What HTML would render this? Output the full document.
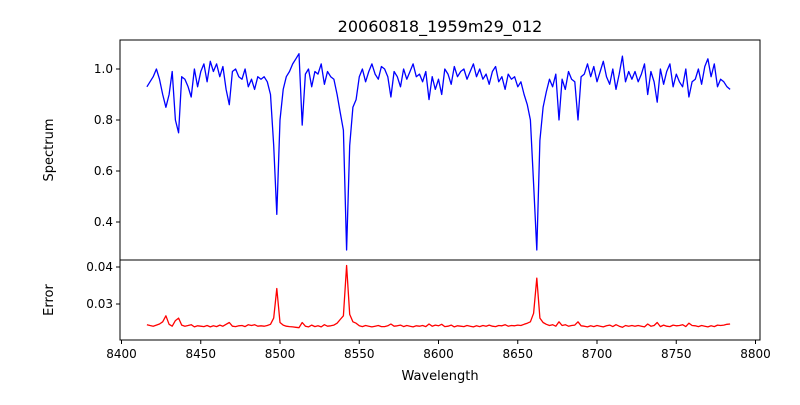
<!DOCTYPE html>
<html><head><meta charset="utf-8"><style>
body{margin:0;background:#fff;}
svg text{font-family:"DejaVu Sans","Liberation Sans",sans-serif;}
</style></head><body>
<svg id="c" width="800" height="400" xmlns="http://www.w3.org/2000/svg">
<rect width="800" height="400" fill="#fff"/>
<text x="440" y="32" font-size="16" text-anchor="middle">20060818_1959m29_012</text>
<text x="0" y="0" font-size="13" text-anchor="middle" transform="translate(53,150) rotate(-90)">Spectrum</text>
<text x="0" y="0" font-size="13" text-anchor="middle" transform="translate(53,300) rotate(-90)">Error</text>
<text x="440" y="380" font-size="13" text-anchor="middle">Wavelength</text>
<g id="g"></g>
</svg>
<script>
const wlStart = 8416, wlStep = 2;
const spectrum = [.93,.95,.97,1.0,.96,.90,.85,.90,.99,.80,.75,.97,.96,.93,.89,1.00,.93,.99,1.02,.95,1.03,.99,1.02,.97,1.01,.92,.86,.99,1.00,.97,.96,1.00,.93,.96,.92,.97,.96,.97,.95,.90,.70,.43,.80,.92,.97,.99,1.02,1.04,1.06,.78,.98,1.00,.93,.99,.98,1.02,.94,.99,.97,.96,.90,.83,.76,.29,.70,.85,.88,.97,1.00,.95,.99,1.02,.98,.96,1.01,1.00,.97,.89,.99,.97,.93,1.00,.96,.99,1.02,.97,.98,.95,.99,.88,.97,.92,.96,.90,1.00,.98,.94,1.01,.97,.99,1.00,.96,.99,1.02,.97,1.00,.96,.98,.94,.99,1.01,.95,.97,.92,.98,.96,.97,.93,.95,.90,.86,.80,.55,.29,.72,.85,.91,.96,.93,.98,.80,.96,.92,.99,.96,.95,.80,.97,.98,1.02,.97,1.01,.95,.99,1.03,.97,.94,1.00,.92,.98,1.05,.95,.99,.96,.99,.95,.98,1.02,.90,.99,.95,.87,1.00,.94,.99,1.02,.93,.98,.95,.93,1.00,.89,.95,.96,1.00,.94,1.01,1.04,.97,1.02,.93,.96,.95,.93,.92];
const errors = [.0244,.0242,.0240,.0243,.0246,.0252,.0268,.0245,.0240,.0255,.0262,.0243,.0240,.0242,.0244,.0238,.0241,.0240,.0239,.0242,.0238,.0241,.0239,.0243,.0240,.0245,.0250,.0240,.0239,.0241,.0242,.0239,.0244,.0242,.0244,.0240,.0241,.0240,.0242,.0245,.0262,.0342,.0250,.0243,.0240,.0239,.0238,.0237,.0236,.0250,.0240,.0238,.0243,.0239,.0241,.0238,.0244,.0240,.0241,.0243,.0248,.0258,.0268,.0404,.0272,.0252,.0248,.0241,.0239,.0242,.0240,.0238,.0240,.0242,.0239,.0239,.0241,.0246,.0240,.0241,.0243,.0239,.0242,.0240,.0238,.0241,.0240,.0242,.0239,.0246,.0240,.0243,.0241,.0245,.0239,.0240,.0243,.0238,.0241,.0240,.0239,.0242,.0240,.0238,.0241,.0239,.0242,.0240,.0243,.0240,.0239,.0242,.0241,.0244,.0240,.0242,.0241,.0243,.0242,.0245,.0248,.0252,.0275,.0370,.0262,.0250,.0245,.0242,.0244,.0240,.0252,.0242,.0244,.0240,.0242,.0243,.0252,.0241,.0240,.0238,.0241,.0239,.0242,.0240,.0238,.0241,.0243,.0239,.0244,.0240,.0237,.0242,.0240,.0242,.0240,.0242,.0240,.0238,.0246,.0240,.0242,.0250,.0239,.0243,.0240,.0239,.0243,.0241,.0242,.0244,.0239,.0248,.0242,.0241,.0239,.0242,.0240,.0238,.0241,.0239,.0243,.0242,.0243,.0245,.0246];
const xTicks = [8400,8450,8500,8550,8600,8650,8700,8750,8800];
const specTicks = [0.4,0.6,0.8,1.0];
const errTicks = [0.03,0.04];

const L=120,R=760,T1=40,B1=260,T2=260,B2=340;
const xs = w => 121.5 + (w-8400)*1.585;
const ys = v => 69 + (1.0-v)*255;
const ye = v => 304 - (v-0.03)*3700;
const NS='http://www.w3.org/2000/svg';
const g=document.getElementById('g');
function mk(tag,attrs,parent){const e=document.createElementNS(NS,tag);for(const k in attrs)e.setAttribute(k,attrs[k]);(parent||g).appendChild(e);return e;}

let d='';spectrum.forEach((v,i)=>{d+=(i?'L':'M')+xs(wlStart+i*wlStep).toFixed(1)+','+ys(v).toFixed(1);});
const p1=mk('path',{d:d,fill:'none',stroke:'#0000ff','stroke-width':1.3,'stroke-linejoin':'round'});


let d2='';errors.forEach((v,i)=>{d2+=(i?'L':'M')+xs(wlStart+i*wlStep).toFixed(1)+','+ye(v).toFixed(1);});
const p2=mk('path',{d:d2,fill:'none',stroke:'#ff0000','stroke-width':1.3,'stroke-linejoin':'round'});



const f1=mk('rect',{x:L,y:T1,width:R-L,height:B1-T1,fill:'none',stroke:'#000','stroke-width':1});


const f2=mk('rect',{x:L,y:T2,width:R-L,height:B2-T2,fill:'none',stroke:'#000','stroke-width':1});



xTicks.forEach(t=>{const x=xs(t);
 mk('line',{x1:x,x2:x,y1:B2,y2:B2+4,stroke:'#000'});
 const tx=mk('text',{x:x,y:B2+18,'font-size':12,'text-anchor':'middle'});tx.textContent=t;
 
 
});
specTicks.forEach(t=>{const y=ys(t);
 mk('line',{x1:L-4,x2:L,y1:y,y2:y,stroke:'#000'});
 const tx=mk('text',{x:L-7,y:y+4,'font-size':12,'text-anchor':'end'});tx.textContent=t.toFixed(1);
 
 
});
errTicks.forEach(t=>{const y=ye(t);
 mk('line',{x1:L-4,x2:L,y1:y,y2:y,stroke:'#000'});
 const tx=mk('text',{x:L-7,y:y+4,'font-size':12,'text-anchor':'end'});tx.textContent=t.toFixed(2);
 
 
});
</script>
</body></html>
